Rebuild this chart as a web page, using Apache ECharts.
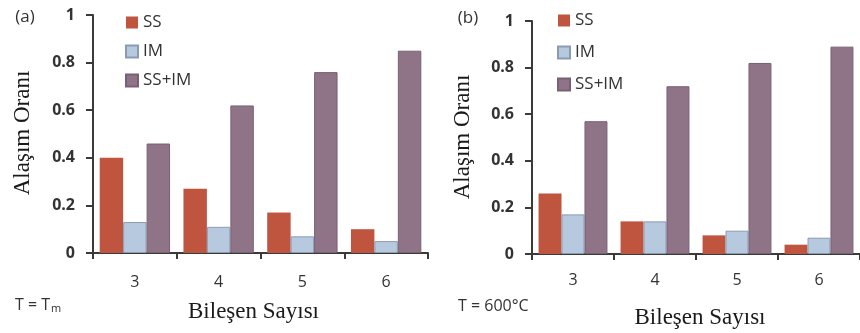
<!DOCTYPE html>
<html>
<head>
<meta charset="utf-8">
<script src="https://cdn.jsdelivr.net/npm/echarts@6/dist/echarts.min.js"></script>
<style>
  html, body { margin: 0; padding: 0; background: #fff; }
  #chart { width: 860px; height: 333px; }
</style>
</head>
<body>
<div id="chart"></div>
<script>
// Number of components in the alloy
const categories = ['3', '4', '5', '6'];
const seriesNames = ['SS', 'IM', 'SS+IM'];

// (a) T = Tm
const ssTm = [0.40, 0.27, 0.17, 0.10];
const imTm = [0.13, 0.11, 0.07, 0.05];
const ssImTm = [0.46, 0.62, 0.76, 0.85];

// (b) T = 600 °C
const ss600 = [0.26, 0.14, 0.08, 0.04];
const im600 = [0.17, 0.14, 0.10, 0.07];
const ssIm600 = [0.57, 0.72, 0.82, 0.89];

const SANS = '"Open Sans", "Noto Sans", sans-serif';
const SERIF = '"Liberation Serif", "DejaVu Serif", serif';
const TEXT_COLOR = '#333333';
const AXIS_COLOR = '#3a3a3a';

// Dark, plain axes for both category and value axes
const axisTheme = {
  axisLine: { show: true, lineStyle: { color: AXIS_COLOR, width: 2 } },
  axisTick: { show: true, lineStyle: { color: AXIS_COLOR, width: 2 } },
  splitLine: { show: false }
};
echarts.registerTheme('plainAxes', {
  categoryAxis: axisTheme,
  valueAxis: axisTheme
});

const barStyles = {
  'SS': { color: '#C0553F' },
  'IM': { color: '#B7C9DE', borderColor: '#8A9BB3', borderWidth: 1 },
  'SS+IM': { color: '#8F7488', borderColor: '#7A6074', borderWidth: 1 }
};

function makeX(gridIndex, labelMargin) {
  return {
    type: 'category',
    gridIndex: gridIndex,
    data: categories,
    axisLine: { show: true, lineStyle: { color: AXIS_COLOR, width: 2 } },
    axisTick: { show: true, length: 6, lineStyle: { color: AXIS_COLOR, width: 2 } },
    axisLabel: { margin: labelMargin, fontSize: 16, color: TEXT_COLOR, fontFamily: SANS },
    splitLine: { show: false }
  };
}

function makeY(gridIndex) {
  return {
    type: 'value',
    gridIndex: gridIndex,
    min: 0, max: 1, interval: 0.2,
    axisLine: { show: true, lineStyle: { color: AXIS_COLOR, width: 2 } },
    axisTick: { show: true, length: 7, lineStyle: { color: AXIS_COLOR, width: 2 } },
    axisLabel: { margin: 18, fontSize: 16, color: TEXT_COLOR, fontFamily: SANS, fontWeight: 'bold' },
    splitLine: { show: false }
  };
}

function makeBar(name, data, axisIndex) {
  return {
    type: 'bar',
    name: name,
    data: data,
    xAxisIndex: axisIndex,
    yAxisIndex: axisIndex,
    barGap: '0%',
    barCategoryGap: '16%',
    itemStyle: barStyles[name],
    emphasis: { disabled: true }
  };
}

function legendAt(left, top, gap) {
  return {
    orient: 'vertical',
    left: left, top: top,
    padding: 0,
    itemWidth: 12, itemHeight: 12, itemGap: gap,
    icon: 'rect',
    data: seriesNames,
    textStyle: { fontSize: 17, lineHeight: 17, color: TEXT_COLOR, fontFamily: SANS },
    selectedMode: false
  };
}

function textAt(x, y, text, font, extra) {
  return {
    type: 'text', x: x, y: y,
    style: Object.assign({ text: text, font: font, fill: '#333',
      textAlign: 'center', textVerticalAlign: 'middle' }, extra || {})
  };
}

const chart = echarts.init(document.getElementById('chart'), 'plainAxes');

chart.setOption({
  animation: false,
  grid: [
    { left: 93, top: 15, width: 335, height: 238 },
    { left: 532, top: 21, width: 334, height: 233 }
  ],
  xAxis: [makeX(0, 21), makeX(1, 18)],
  yAxis: [makeY(0), makeY(1)],
  legend: [legendAt(125, 14, 12), legendAt(557, 12, 15)],
  series: [
    makeBar('SS', ssTm, 0),
    makeBar('IM', imTm, 0),
    makeBar('SS+IM', ssImTm, 0),
    makeBar('SS', ss600, 1),
    makeBar('IM', im600, 1),
    makeBar('SS+IM', ssIm600, 1)
  ],
  graphic: [
    // panel tags
    textAt(25, 17, '(a)', '17px ' + SANS, { fill: TEXT_COLOR }),
    textAt(468, 18, '(b)', '17px ' + SANS, { fill: TEXT_COLOR }),
    // y axis titles
    Object.assign(textAt(23, 133, 'Alaşım Oranı', '23px ' + SERIF, { fill: '#1a1a1a' }), { rotation: Math.PI / 2 }),
    Object.assign(textAt(463, 137, 'Alaşım Oranı', '23px ' + SERIF, { fill: '#1a1a1a' }), { rotation: Math.PI / 2 }),
    // x axis titles
    textAt(253.5, 312, 'Bileşen Sayısı', '23px ' + SERIF, { fill: '#1a1a1a' }),
    textAt(700, 318, 'Bileşen Sayısı', '23px ' + SERIF, { fill: '#1a1a1a' }),
    // temperature notes
    {
      type: 'text', x: 15, y: 305,
      style: {
        text: '{a|T = T}{s|m}',
        textAlign: 'left', textVerticalAlign: 'middle',
        rich: {
          a: { fontSize: 16, fontFamily: SANS, fill: TEXT_COLOR },
          s: { fontSize: 11, fontFamily: SANS, fill: TEXT_COLOR, padding: [8, 0, 0, 1] }
        }
      }
    },
    textAt(458, 306, 'T = 600°C', '16px ' + SANS, { fill: TEXT_COLOR, textAlign: 'left' })
  ]
});
</script>
</body>
</html>
